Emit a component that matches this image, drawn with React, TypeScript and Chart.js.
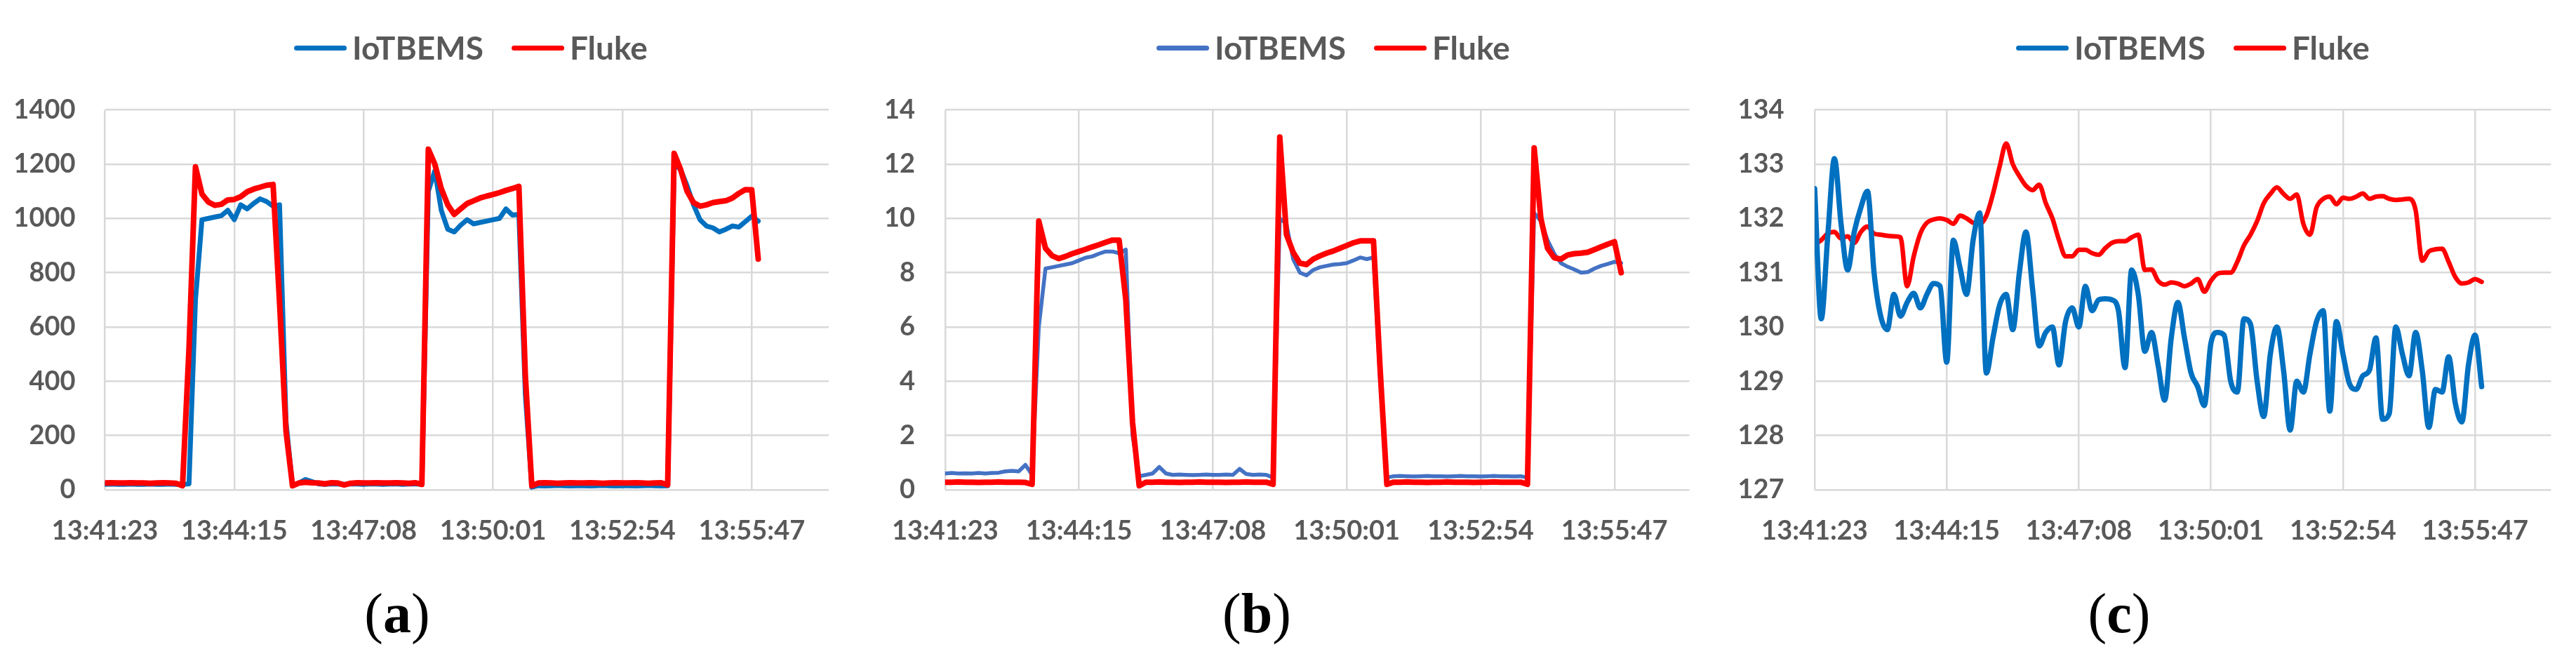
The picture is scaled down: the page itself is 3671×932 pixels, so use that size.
import React, { useEffect, useRef } from 'react';
import { Chart, registerables } from 'chart.js';

Chart.register(...registerables);

// ---------- data ----------
const SERIES_NAMES = ['IoTBEMS', 'Fluke'];
const X_TICK_LABELS = ['13:41:23', '13:44:15', '13:47:08', '13:50:01', '13:52:54', '13:55:47'];
const X_TICK_SAMPLES = [0, 20, 40, 60, 80, 100];

// (a) power
const POWER_IOTBEMS = [
  20, 21, 20, 20, 21, 20, 20, 21, 20, 20, 21, 20, 20,
  22, 700, 995, 1000, 1005, 1010, 1030, 995,
  1050, 1035, 1055, 1072, 1062, 1045, 1050, 250, 15,
  25, 38, 30, 22, 20, 22, 21, 20, 22, 21,
  20, 22, 21, 20, 21, 22, 20, 21, 22,
  20, 1100, 1175, 1030, 960, 950, 975, 995, 980, 985,
  990, 995, 1000, 1035, 1012, 1015, 350, 10,
  15, 14, 15, 16, 15, 14, 15, 15, 14, 15,
  16, 15, 14, 15, 15, 14, 15, 16, 15, 14,
  15, 1200, 1180, 1120, 1050, 995, 972, 965, 950, 960,
  972, 968, 988, 1008, 990,
];
const POWER_FLUKE = [
  25, 26, 25, 25, 26, 25, 25, 24, 25, 26, 25, 24,
  15, 520, 1190, 1090, 1060, 1048, 1052, 1068, 1070, 1080,
  1098, 1108, 1115, 1122, 1125, 690, 215, 15,
  25, 28, 26, 25, 22, 26, 25, 18, 24, 26,
  25, 25, 26, 25, 25, 26, 25, 24, 26,
  20, 1255, 1200, 1110, 1050, 1015, 1035, 1055, 1065, 1075,
  1082, 1088, 1095, 1103, 1110, 1118, 420, 15,
  25, 26, 25, 24, 25, 26, 25, 25, 26, 25,
  24, 25, 26, 25, 25, 26, 25, 24, 25, 26,
  18, 1240, 1180, 1100, 1058, 1045, 1050, 1058, 1062, 1065,
  1075, 1092, 1106, 1105, 850,
];

// (b) current
const CURRENT_IOTBEMS = [
  0.6, 0.62, 0.6, 0.61, 0.6, 0.62, 0.6, 0.62, 0.63, 0.68, 0.7, 0.68, 0.92,
  0.55, 6.0, 8.15, 8.2, 8.25, 8.3, 8.35, 8.45, 8.55, 8.6, 8.7, 8.78, 8.78, 8.72, 8.85, 2.0, 0.5,
  0.55, 0.6, 0.84, 0.6, 0.55, 0.56, 0.55, 0.54, 0.55, 0.56, 0.55, 0.55, 0.56, 0.55, 0.77, 0.58, 0.55, 0.56, 0.55,
  0.45, 10.0, 9.8, 8.5, 8.0, 7.9, 8.1, 8.2, 8.25, 8.3, 8.32, 8.35, 8.45, 8.56, 8.5, 8.56, 4.0, 0.45,
  0.5, 0.51, 0.5, 0.49, 0.5, 0.51, 0.5, 0.5, 0.49, 0.5, 0.51, 0.5, 0.5, 0.49, 0.5, 0.51, 0.5, 0.5, 0.49, 0.5,
  0.45, 10.2, 9.9, 9.2, 8.7, 8.35, 8.22, 8.12, 8.0, 8.02, 8.15, 8.25, 8.32, 8.4, 8.35,
];
const CURRENT_FLUKE = [
  0.28, 0.28, 0.29, 0.28, 0.28, 0.27, 0.28, 0.28, 0.29, 0.28, 0.28, 0.28, 0.27,
  0.2, 9.9, 8.9, 8.62, 8.52, 8.6, 8.7, 8.78, 8.86, 8.95, 9.03, 9.12, 9.2, 9.2, 7.0, 2.5, 0.15,
  0.28, 0.28, 0.29, 0.28, 0.28, 0.27, 0.28, 0.28, 0.29, 0.28, 0.28, 0.28, 0.27, 0.28, 0.28, 0.29, 0.28, 0.28, 0.28,
  0.2, 13.0, 9.4, 8.75, 8.35, 8.3, 8.5, 8.62, 8.72, 8.8, 8.9, 9.0, 9.1, 9.17, 9.17, 9.17, 4.4, 0.2,
  0.28, 0.28, 0.29, 0.28, 0.28, 0.27, 0.28, 0.28, 0.29, 0.28, 0.28, 0.28, 0.27, 0.28, 0.28, 0.29, 0.28, 0.28, 0.28, 0.28,
  0.2, 12.6, 10.0, 8.9, 8.55, 8.5, 8.65, 8.7, 8.72, 8.75, 8.85, 8.95, 9.05, 9.14, 8.0,
];

// (c) voltage
const VOLTAGE_IOTBEMS = [
  132.55, 130.15, 131.7, 133.1, 131.9, 131.05, 131.75, 132.2, 132.5, 131.0,
  130.2, 129.95, 130.6, 130.2, 130.45, 130.62, 130.35, 130.6, 130.8, 130.75,
  129.35, 131.6, 131.1, 130.6, 131.6, 132.1, 129.15, 129.8, 130.4, 130.6,
  129.95, 131.0, 131.75, 130.7, 129.65, 129.9, 130.0, 129.3, 130.1, 130.35,
  130.0, 130.75, 130.3, 130.5, 130.52, 130.5, 130.3, 129.25, 131.05, 130.6,
  129.55, 129.9, 129.3, 128.65, 129.8, 130.45, 129.8, 129.15, 128.9, 128.55,
  129.7, 129.9, 129.85, 129.0, 128.8, 130.15, 130.05, 129.0, 128.35, 129.5,
  130.0, 129.2, 128.1, 129.0, 128.8, 129.5, 130.1, 130.3, 128.45, 130.1,
  129.5, 128.95, 128.85, 129.1, 129.2, 129.8, 128.3, 128.4, 130.0, 129.5,
  129.1, 129.9, 129.2, 128.15, 128.85, 128.8, 129.45, 128.6, 128.25, 129.3,
  129.85, 128.9,
];
const VOLTAGE_FLUKE = [
  131.52, 131.6, 131.72, 131.75, 131.63, 131.67, 131.55, 131.75, 131.85, 131.72,
  131.7, 131.68, 131.67, 131.65, 130.75, 131.3, 131.72, 131.92, 131.98, 132.0,
  131.97, 131.9, 132.05, 132.0, 131.92, 131.9, 132.05, 132.45, 132.95, 133.38,
  133.0, 132.78, 132.6, 132.52, 132.62, 132.28, 132.0, 131.6, 131.3, 131.3,
  131.42, 131.42, 131.36, 131.33, 131.45, 131.55, 131.58, 131.58, 131.65, 131.7,
  131.05, 131.06, 130.85, 130.78, 130.82, 130.8, 130.75, 130.8, 130.88, 130.65,
  130.85, 130.98, 131.0, 131.0, 131.2, 131.5, 131.7, 131.95, 132.28, 132.45,
  132.57, 132.45, 132.36, 132.44, 131.9, 131.7, 132.2, 132.36, 132.4, 132.26,
  132.38, 132.36, 132.4, 132.46, 132.36, 132.4, 132.41, 132.36, 132.34, 132.35,
  132.36, 132.15, 131.22, 131.39, 131.43, 131.44, 131.2, 130.92, 130.8, 130.82,
  130.88, 130.83,
];

// ---------- styles / layout ----------
const RED = '#FF0000';
const GRID = '#D9D9D9';
const TEXT = '#595959';
const TICK_FONT = { family: 'Lato', size: 38, weight: 'bold' as const };
const CANVAS_H = 800;
const TOP_PAD = 156.5;
const X_AXIS_H = 102;

const PANELS = [
  {
    caption: 'a', left: 0, width: 1200, axisWidth: 149.5, padRight: 19, xMax: 111.9,
    yMin: 0, yMax: 1400, yStep: 200, tickPad: 42, blue: '#0070C0', blueWidth: 7, redWidth: 8,
    iot: POWER_IOTBEMS, fluke: POWER_FLUKE, legendX: 671, captionX: 566, blueOnTop: false, smooth: false,
  },
  {
    caption: 'b', left: 1200, width: 1230, axisWidth: 146.8, padRight: 22.4, xMax: 111.2,
    yMin: 0, yMax: 14, yStep: 2, tickPad: 42.8, blue: '#4472C4', blueWidth: 5.5, redWidth: 8,
    iot: CURRENT_IOTBEMS, fluke: CURRENT_FLUKE, legendX: 1900, captionX: 1791, blueOnTop: false, smooth: false,
  },
  {
    caption: 'c', left: 2430, width: 1241, axisWidth: 156, padRight: 35.6, xMax: 111.5,
    yMin: 127, yMax: 134, yStep: 1, tickPad: 43.5, blue: '#0070C0', blueWidth: 7.5, redWidth: 6.5,
    iot: VOLTAGE_IOTBEMS, fluke: VOLTAGE_FLUKE, legendX: 3125, captionX: 3020, blueOnTop: true, smooth: true,
  },
];

type PanelCfg = typeof PANELS[number];

function ChartPanel({ cfg }: { cfg: PanelCfg }) {
  const ref = useRef<HTMLCanvasElement>(null);
  useEffect(() => {
    const toPoints = (arr: number[]) => arr.map((y, i) => ({ x: i, y }));
    const lineCommon = {
      pointRadius: 0,
      borderJoinStyle: 'round' as const,
      borderCapStyle: 'round' as const,
      cubicInterpolationMode: cfg.smooth ? ('monotone' as const) : ('default' as const),
      tension: 0,
      fill: false,
    };
    const chart = new Chart(ref.current as HTMLCanvasElement, {
      type: 'line',
      data: {
        datasets: [
          {
            ...lineCommon,
            label: SERIES_NAMES[0],
            data: toPoints(cfg.iot),
            borderColor: cfg.blue,
            backgroundColor: cfg.blue,
            borderWidth: cfg.blueWidth,
            order: cfg.blueOnTop ? 0 : 1,
          },
          {
            ...lineCommon,
            label: SERIES_NAMES[1],
            data: toPoints(cfg.fluke),
            borderColor: RED,
            backgroundColor: RED,
            borderWidth: cfg.redWidth,
            order: cfg.blueOnTop ? 1 : 0,
          },
        ],
      },
      options: {
        animation: false,
        responsive: false,
        devicePixelRatio: 1,
        layout: { padding: { top: TOP_PAD, right: cfg.padRight, left: 0, bottom: 0 } },
        plugins: { legend: { display: false }, tooltip: { enabled: false } },
        scales: {
          x: {
            type: 'linear',
            min: 0,
            max: cfg.xMax,
            afterBuildTicks: (s: any) => {
              s.ticks = X_TICK_SAMPLES.map((v) => ({ value: v }));
            },
            afterFit: (s: any) => {
              s.height = X_AXIS_H;
            },
            grid: { color: GRID, lineWidth: 2.5, drawTicks: false },
            border: { display: false },
            ticks: {
              padding: 36,
              color: TEXT,
              font: TICK_FONT,
              maxRotation: 0,
              autoSkip: false,
              callback: (v: any) => {
                const k = X_TICK_SAMPLES.indexOf(Number(v));
                return k >= 0 ? X_TICK_LABELS[k] : '';
              },
            },
          },
          y: {
            min: cfg.yMin,
            max: cfg.yMax,
            afterFit: (s: any) => {
              s.width = cfg.axisWidth;
            },
            grid: { color: GRID, lineWidth: 2.5, drawTicks: false },
            border: { display: false },
            ticks: {
              stepSize: cfg.yStep,
              padding: cfg.tickPad,
              color: TEXT,
              font: TICK_FONT,
              callback: (v: any) => String(Math.round(Number(v))),
            },
          },
        },
      },
    });
    return () => chart.destroy();
  }, [cfg]);
  return (
    <canvas
      ref={ref}
      width={cfg.width}
      height={CANVAS_H}
      style={{ position: 'absolute', left: cfg.left, top: 0, width: cfg.width, height: CANVAS_H }}
    />
  );
}

function Legend({ cfg }: { cfg: PanelCfg }) {
  const line = (color: string, ml: number) => (
    <span
      style={{
        display: 'inline-block',
        width: 75,
        height: 7,
        borderRadius: 4,
        background: color,
        marginLeft: ml,
        marginRight: 8,
      }}
    />
  );
  return (
    <div
      style={{
        position: 'absolute',
        left: cfg.legendX,
        top: 68,
        transform: 'translate(-50%, -50%)',
        display: 'flex',
        alignItems: 'center',
        whiteSpace: 'nowrap',
        fontFamily: 'Lato',
        fontWeight: 'bold',
        fontSize: 46,
        lineHeight: 1,
        color: TEXT,
      }}
    >
      {line(cfg.blue, 0)}
      <span>{SERIES_NAMES[0]}</span>
      {line(RED, 40)}
      <span>{SERIES_NAMES[1]}</span>
    </div>
  );
}

function Caption({ cfg }: { cfg: PanelCfg }) {
  return (
    <div
      style={{
        position: 'absolute',
        left: cfg.captionX,
        top: 874,
        transform: 'translate(-50%, -50%)',
        fontFamily: '"Liberation Serif", "Times New Roman", serif',
        fontSize: 80,
        lineHeight: 1,
        color: '#000',
        whiteSpace: 'nowrap',
      }}
    >
      (<b>{cfg.caption}</b>)
    </div>
  );
}

export default function App() {
  return (
    <div
      style={{
        position: 'absolute',
        left: 0,
        top: 0,
        width: 3671,
        height: 932,
        background: '#fff',
        overflow: 'hidden',
      }}
    >
      {PANELS.map((p) => (
        <ChartPanel key={'c' + p.caption} cfg={p} />
      ))}
      {PANELS.map((p) => (
        <Legend key={'l' + p.caption} cfg={p} />
      ))}
      {PANELS.map((p) => (
        <Caption key={'t' + p.caption} cfg={p} />
      ))}
    </div>
  );
}
